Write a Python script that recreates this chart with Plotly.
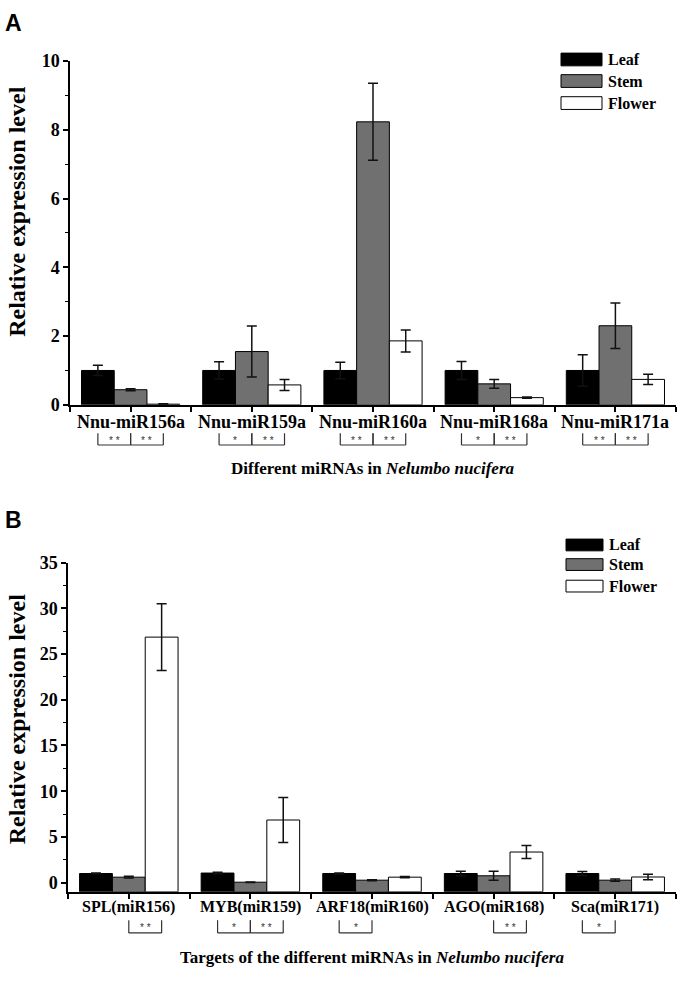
import plotly.graph_objects as go

# ---------------- data ----------------
series_names = ["Leaf", "Stem", "Flower"]

groups_a = ["Nnu-miR156a", "Nnu-miR159a", "Nnu-miR160a", "Nnu-miR168a", "Nnu-miR171a"]
leaf_a = [1.0, 1.0, 1.0, 1.0, 1.0]
leaf_a_err = [0.15, 0.25, 0.24, 0.26, 0.46]
stem_a = [0.44, 1.55, 8.23, 0.61, 2.30]
stem_a_err = [0.03, 0.74, 1.12, 0.13, 0.66]
flower_a = [0.02, 0.58, 1.86, 0.21, 0.74]
flower_a_err = [0.01, 0.16, 0.32, 0.02, 0.15]
sig_a = [("**", "**"), ("*", "**"), ("**", "**"), ("*", "**"), ("**", "**")]

groups_b = ["SPL(miR156)", "MYB(miR159)", "ARF18(miR160)", "AGO(miR168)", "Sca(miR171)"]
leaf_b = [1.0, 1.05, 1.0, 1.0, 1.0]
leaf_b_err = [0.05, 0.08, 0.05, 0.25, 0.22]
stem_b = [0.6, 0.05, 0.27, 0.75, 0.27]
stem_b_err = [0.1, 0.03, 0.05, 0.5, 0.12]
flower_b = [26.85, 6.85, 0.6, 3.35, 0.62]
flower_b_err = [3.65, 2.45, 0.06, 0.7, 0.3]
sig_b = [("", "**"), ("*", "**"), ("*", ""), ("", "**"), ("*", "")]

yticks_a = [0, 2, 4, 6, 8, 10]
yticks_b = [0, 5, 10, 15, 20, 25, 30, 35]

title_a = "Different miRNAs in <i>Nelumbo nucifera</i>"
title_b = "Targets of the different miRNAs in <i>Nelumbo nucifera</i>"
ytitle = "Relative expression level"

# ---------------- style ----------------
W, H = 680, 989
colors = ["#000000", "#707070", "#ffffff"]
SERIF = "Liberation Serif"
SANS = "Liberation Sans"
BAR_W = 0.27
B_BASE = -1.0


def px(x):
    return x / W


def py(y):
    return 1 - y / H


fig = go.Figure()

pos = list(range(5))

# Panel A traces
for k, (vals, errs) in enumerate([(leaf_a, leaf_a_err), (stem_a, stem_a_err), (flower_a, flower_a_err)]):
    fig.add_trace(go.Bar(
        x=pos, y=vals, name=series_names[k], xaxis="x", yaxis="y",
        offset=(k - 1.5) * BAR_W, width=BAR_W,
        marker=dict(color=colors[k], line=dict(color="#000000", width=1)),
        error_y=dict(type="data", array=errs, visible=True, color="#111111", thickness=1.5, width=5),
        showlegend=False,
    ))

# Panel B traces (bars drawn from the bottom of the axis)
for k, (vals, errs) in enumerate([(leaf_b, leaf_b_err), (stem_b, stem_b_err), (flower_b, flower_b_err)]):
    fig.add_trace(go.Bar(
        x=pos, y=[v - B_BASE for v in vals], base=B_BASE, name=series_names[k], xaxis="x2", yaxis="y2",
        offset=(k - 1.5) * BAR_W, width=BAR_W,
        marker=dict(color=colors[k], line=dict(color="#000000", width=1)),
        error_y=dict(type="data", array=errs, visible=True, color="#111111", thickness=1.5, width=5),
        showlegend=False,
    ))

axis_common = dict(showline=True, linecolor="#000000", linewidth=1.5, ticks="outside",
                   ticklen=5, tickwidth=1.5, tickcolor="#000000", showgrid=False, zeroline=False)

half_ticks = [-0.5 + i for i in range(6)]

fig.update_layout(
    width=W, height=H, margin=dict(l=0, r=0, t=0, b=0),
    paper_bgcolor="white", plot_bgcolor="white",
    barmode="overlay", showlegend=False,
    xaxis=dict(domain=[px(70), px(676)], range=[-0.5, 4.5], anchor="y",
               tickmode="array", tickvals=pos, showticklabels=False,
               minor=dict(tickmode="array", tickvals=half_ticks, ticks="outside", ticklen=5,
                          tickwidth=1.5, tickcolor="#000000"),
               **axis_common),
    yaxis=dict(domain=[py(403), py(52)], range=[0, 10], anchor="x",
               tickmode="array", tickvals=yticks_a,
               tickfont=dict(family=SERIF, size=18, color="#000000", weight="bold"),
               minor=dict(tick0=0, dtick=1, ticks="outside", ticklen=3, tickwidth=1.2, tickcolor="#000000"),
               **axis_common),
    xaxis2=dict(domain=[px(68), px(676)], range=[-0.5, 4.5], anchor="y2",
                tickmode="array", tickvals=pos, showticklabels=False,
                minor=dict(tickmode="array", tickvals=half_ticks, ticks="outside", ticklen=5,
                           tickwidth=1.5, tickcolor="#000000"),
                **axis_common),
    yaxis2=dict(domain=[py(900), py(564)], range=[B_BASE, 35], anchor="x2",
                tickmode="array", tickvals=yticks_b,
                tickfont=dict(family=SERIF, size=18, color="#000000", weight="bold"),
                minor=dict(tick0=0, dtick=2.5, ticks="outside", ticklen=3, tickwidth=1.2, tickcolor="#000000"),
                **axis_common),
)

annotations = []
shapes = []

# category labels (placed as text below each group)
for xref, groups, yc, fs in (("x", groups_a, 420, 18), ("x2", groups_b, 916, 16)):
    for i, g in enumerate(groups):
        annotations.append(dict(text="<b>" + g + "</b>", x=i, y=py(yc), xref=xref, yref="paper",
                                xanchor="center", yanchor="middle", showarrow=False,
                                font=dict(family=SERIF, size=fs, color="#000000")))

# panel letters
annotations.append(dict(text="<b>A</b>", x=px(3), y=py(13), xref="paper", yref="paper",
                        xanchor="left", yanchor="middle", showarrow=False,
                        font=dict(family=SANS, size=23, color="#000000")))
annotations.append(dict(text="<b>B</b>", x=px(3), y=py(521), xref="paper", yref="paper",
                        xanchor="left", yanchor="middle", showarrow=False,
                        font=dict(family=SANS, size=23, color="#000000")))

# y titles
for yc in (206, 724):
    annotations.append(dict(text="<b>" + ytitle + "</b>", x=px(17), y=py(yc), xref="paper", yref="paper",
                            xanchor="center", yanchor="middle", textangle=-90, showarrow=False,
                            font=dict(family=SERIF, size=24, color="#000000")))

# x titles
annotations.append(dict(text="<b>" + title_a + "</b>", x=px(373), y=py(468), xref="paper", yref="paper",
                        xanchor="center", yanchor="middle", showarrow=False,
                        font=dict(family=SERIF, size=17, color="#000000")))
annotations.append(dict(text="<b>" + title_b + "</b>", x=px(372), y=py(967), xref="paper", yref="paper",
                        xanchor="center", yanchor="middle", showarrow=False,
                        font=dict(family=SERIF, size=17, color="#000000")))


# significance brackets
def add_brackets(sigs, xref, top, bottom):
    for i, (s1, s2) in enumerate(sigs):
        for (s, a, b) in [(s1, i - BAR_W, i), (s2, i, i + BAR_W)]:
            if not s:
                continue
            for xx in (a, b):
                shapes.append(dict(type="line", xref=xref, yref="paper", x0=xx, x1=xx,
                                   y0=py(top), y1=py(bottom), line=dict(color="#333333", width=1.2)))
            shapes.append(dict(type="line", xref=xref, yref="paper", x0=a, x1=b,
                               y0=py(bottom), y1=py(bottom), line=dict(color="#333333", width=1.2)))
            annotations.append(dict(text=" ".join(s), x=(a + b) / 2, y=py((top + bottom) / 2 + 1),
                                    xref=xref, yref="paper", xanchor="center", yanchor="middle",
                                    showarrow=False, font=dict(family=SANS, size=10, color="#333333")))


add_brackets(sig_a, "x", 432, 444)
add_brackets(sig_b, "x2", 929, 942)


# legends
def add_legend(x0, x1, ys, tx, h):
    for k, yc in enumerate(ys):
        shapes.append(dict(type="rect", xref="paper", yref="paper", x0=px(x0), x1=px(x1),
                           y0=py(yc + h / 2), y1=py(yc - h / 2), fillcolor=colors[k],
                           line=dict(color="#000000", width=1)))
        annotations.append(dict(text="<b>" + series_names[k] + "</b>", x=px(tx), y=py(yc),
                                xref="paper", yref="paper", xanchor="left", yanchor="middle",
                                showarrow=False, font=dict(family=SERIF, size=16, color="#000000")))


add_legend(561, 602, [50.5, 72.5, 95], 606, 13)
add_legend(566, 603, [546, 566, 588], 607, 12)

fig.update_layout(annotations=annotations, shapes=shapes)

fig.write_html("out.html", config={"displayModeBar": False},
               post_script="document.body.style.margin='0';")
